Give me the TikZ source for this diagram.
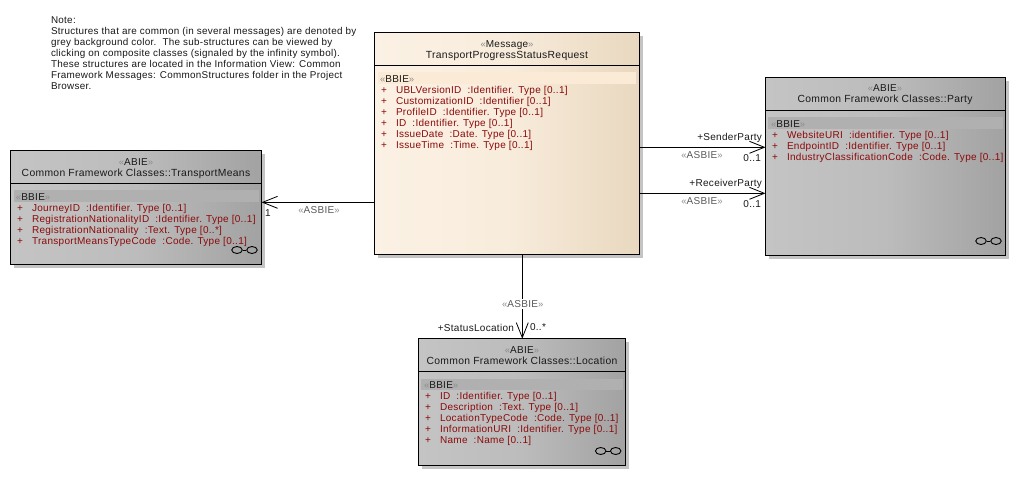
\documentclass[tikz,border=0pt]{standalone}
\usepackage{fontspec}
\setmainfont[LetterSpace=3]{Liberation Sans}
\usetikzlibrary{arrows.meta,shadows,shapes.geometric}
\definecolor{attr}{HTML}{8B0A0A}
\definecolor{shadowgrey}{HTML}{C4C4C4}
\definecolor{stereo}{HTML}{8C8C8C}
\definecolor{msgL}{HTML}{FBF1E4}\definecolor{msgR}{HTML}{E9D8BF}\definecolor{msgM}{HTML}{F8ECDC}
\definecolor{greyL}{HTML}{C4C4C4}\definecolor{greyR}{HTML}{A2A2A2}\definecolor{greyM}{HTML}{BCBCBC}
\definecolor{msgband}{HTML}{FBEBD6}\definecolor{greyband}{HTML}{B0B0B0}
\newcommand{\st}[1]{{\color{stereo}\fontsize{9.5}{9.5}\selectfont«}#1{\color{stereo}\fontsize{9.5}{9.5}\selectfont»}}
\newcommand{\at}[1]{\makebox[15pt][l]{+}#1}
\newcommand{\sep}{\ \ }
\tikzset{
  txt/.style={inner sep=0pt,outer sep=0pt,yshift=-0.8pt,font=\fontsize{10}{11}\selectfont,text=black!90},
  lbl/.style={txt,anchor=mid west},
  notetxt/.style={lbl,font=\fontsize{9.87}{11}\selectfont},
  ctr/.style={txt,anchor=mid},
  title/.style={txt,anchor=mid,font=\fontsize{10.35}{11}\selectfont},
  rgt/.style={txt,anchor=mid east},
  attrib/.style={txt,anchor=mid west,text=attr},
  asbie/.style={txt,anchor=mid,text=black!65,fill=white,inner sep=1pt},
  classbox/.style={draw=black,line width=0.9pt,anchor=north west,inner sep=0pt,outer sep=0pt,
    general shadow={fill=shadowgrey,shadow xshift=3.5pt,shadow yshift=-3.5pt}},
  msgbox/.style={classbox,left color=msgL,right color=msgR,middle color=msgM},
  greybox/.style={classbox,left color=greyL,right color=greyR,middle color=greyM},
  assoc/.style={line width=0.9pt,-{Straight Barb[length=15pt,width=12pt,line width=0.8pt]}},
  lens/.style={draw=black,line width=0.9pt,ellipse,inner sep=0pt,minimum width=10.5pt,minimum height=7pt},
}
\newcommand{\infsym}[3]{%
  \node[lens] (#1a) at (#2-7.5,#3) {};
  \node[lens] (#1b) at (#2+7.5,#3) {};
  \draw[line width=0.9pt] (#1a) -- (#1b);}
\begin{document}
\begin{tikzpicture}[x=1pt,y=-1pt]
\useasboundingbox (0,0) rectangle (1016,493);
\fill[white] (0,0) rectangle (1016,493);
% Note
\node[notetxt] (n1) at (51,20.5) {Note:};
\node[notetxt] (n2) at (51,31.5) {Structures that are common (in several messages) are denoted by};
\node[notetxt] (n3) at (51,42.5) {grey background color.\sep The sub-structures can be viewed by};
\node[notetxt] (n4) at (51,53.5) {clicking on composite classes (signaled by the infinity symbol).};
\node[notetxt] (n5) at (51,64.5) {These structures are located in the Information View: Common};
\node[notetxt] (n6) at (51,75.5) {Framework Messages: CommonStructures folder in the Project};
\node[notetxt] (n7) at (51,86.5) {Browser.};
% Boxes
\node[msgbox,minimum width=264.5pt,minimum height=222pt] (msg) at (374.5,32) {};
\node[greybox,minimum width=251pt,minimum height=113.5pt] (tm) at (10.5,150.5) {};
\node[greybox,minimum width=239.5pt,minimum height=178pt] (party) at (765.5,77.3) {};
\node[greybox,minimum width=207pt,minimum height=126.7pt] (loc) at (418.3,338.7) {};
% Dividers
\draw[line width=0.9pt] (msg.west |- 0,65.7) -- (msg.east |- 0,65.7);
\draw[line width=0.9pt] (tm.west |- 0,183) -- (tm.east |- 0,183);
\draw[line width=0.9pt] (party.west |- 0,110.7) -- (party.east |- 0,110.7);
\draw[line width=0.9pt] (loc.west |- 0,371.3) -- (loc.east |- 0,371.3);
% BBIE bands
\fill[msgband] (378,72) rectangle (636,84);
\fill[greyband] (13.5,190) rectangle (259,202);
\fill[greyband] (768,117) rectangle (1003,129);
\fill[greyband] (421,378.5) rectangle (622.6,389.5);
% Message text
\node[ctr] (m1) at (507,44) {\st{Message}};
\node[title] (m2) at (507,54.7) {TransportProgressStatusRequest};
\node[lbl] (m3) at (380,79) {\st{BBIE}};
\node[attrib] (m4) at (381,90) {\at{UBLVersionID\sep:Identifier. Type [0..1]}};
\node[attrib] (m5) at (381,101) {\at{CustomizationID\sep:Identifier [0..1]}};
\node[attrib] (m6) at (381,112) {\at{ProfileID\sep:Identifier. Type [0..1]}};
\node[attrib] (m7) at (381,123) {\at{ID\sep:Identifier. Type [0..1]}};
\node[attrib] (m8) at (381,134) {\at{IssueDate\sep:Date. Type [0..1]}};
\node[attrib] (m9) at (381,145) {\at{IssueTime\sep:Time. Type [0..1]}};
% TransportMeans text
\node[ctr] (t1) at (136,162) {\st{ABIE}};
\node[title] (t2) at (136,173) {Common Framework Classes::TransportMeans};
\node[lbl] (t3) at (16,197) {\st{BBIE}};
\node[attrib] (t4) at (17,207.7) {\at{JourneyID\sep:Identifier. Type [0..1]}};
\node[attrib] (t5) at (17,218.7) {\at{RegistrationNationalityID\sep:Identifier. Type [0..1]}};
\node[attrib] (t6) at (17,229.7) {\at{RegistrationNationality\sep:Text. Type [0..*]}};
\node[attrib] (t7) at (17,240.7) {\at{TransportMeansTypeCode\sep:Code. Type [0..1]}};
\infsym{ti}{244.5}{250}
% Party text
\node[ctr] (p1) at (885,88.5) {\st{ABIE}};
\node[title] (p2) at (885,99.5) {Common Framework Classes::Party};
\node[lbl] (p3) at (771,124) {\st{BBIE}};
\node[attrib] (p4) at (772,135) {\at{WebsiteURI\sep:identifier. Type [0..1]}};
\node[attrib] (p5) at (772,146) {\at{EndpointID\sep:Identifier. Type [0..1]}};
\node[attrib] (p6) at (772,157) {\at{IndustryClassificationCode\sep:Code. Type [0..1]}};
\infsym{pi}{988.5}{241}
% Location text
\node[ctr] (l1) at (522,350) {\st{ABIE}};
\node[title] (l2) at (522,361) {Common Framework Classes::Location};
\node[lbl] (l3) at (424,385) {\st{BBIE}};
\node[attrib] (l4) at (425,396) {\at{ID\sep:Identifier. Type [0..1]}};
\node[attrib] (l5) at (425,407) {\at{Description\sep:Text. Type [0..1]}};
\node[attrib] (l6) at (425,418) {\at{LocationTypeCode\sep:Code. Type [0..1]}};
\node[attrib] (l7) at (425,429) {\at{InformationURI\sep:Identifier. Type [0..1]}};
\node[attrib] (l8) at (425,440) {\at{Name\sep:Name [0..1]}};
\infsym{li}{608.2}{451}
% Connectors
\draw[assoc] (msg.west |- 0,202.3) -- (tm.east |- 0,202.3);
\draw[assoc] (msg.east |- 0,147.3) -- (party.west |- 0,147.3);
\draw[assoc] (msg.east |- 0,193.3) -- (party.west |- 0,193.3);
\draw[assoc] (msg.south -| 522.3,0) -- (loc.north -| 522.3,0);
% Connector labels
\node[asbie] (a1) at (319,210) {\st{ASBIE}};
\node[lbl] (a2) at (265,213) {1};
\node[rgt] (a3) at (762,136.7) {+SenderParty};
\node[asbie] (a4) at (702,154.7) {\st{ASBIE}};
\node[rgt] (a5) at (761,157.7) {0..1};
\node[rgt] (a6) at (762,182.7) {+ReceiverParty};
\node[asbie] (a7) at (702,200.7) {\st{ASBIE}};
\node[rgt] (a8) at (761,203.7) {0..1};
\node[asbie] (a9) at (522.7,304) {\st{ASBIE}};
\node[rgt] (a10) at (514,327.7) {+StatusLocation};
\node[lbl] (a11) at (530,327) {0..*};
\end{tikzpicture}
\end{document}
